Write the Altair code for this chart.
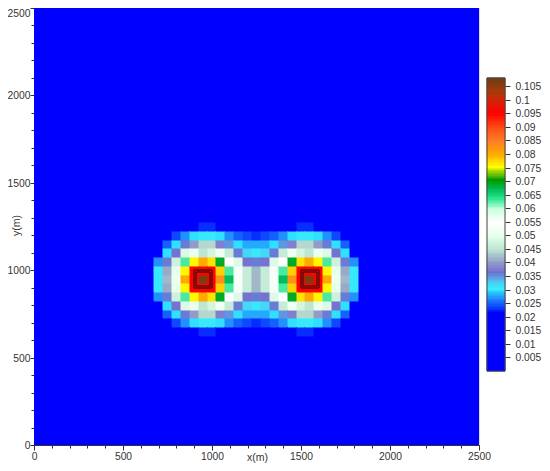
import altair as alt
import pandas as pd

FONT = "Liberation Sans"
TEXT = "#333333"
CELL = 50
BACKGROUND = 0.012
PEAK_A = 950

# Half profile, x = 650 ... 1250 step 50; rows are distance from y = 950
XS = [650, 700, 750, 800, 850, 900, 950, 1000, 1050, 1100, 1150, 1200, 1250]
ROW_0 = [0.015, 0.031, 0.042, 0.052, 0.080, 0.095, 0.1065, 0.095, 0.083, 0.067, 0.053, 0.046, 0.042]
ROW_1 = [0.015, 0.031, 0.041, 0.050, 0.076, 0.095, 0.096, 0.095, 0.078, 0.063, 0.053, 0.046, 0.042]
ROW_2 = [0.015, 0.027, 0.036, 0.047, 0.063, 0.076, 0.080, 0.077, 0.069, 0.055, 0.049, 0.037, 0.036]
ROW_3 = [0.012, 0.020, 0.030, 0.037, 0.049, 0.051, 0.045, 0.048, 0.052, 0.046, 0.036, 0.032, 0.031]
ROW_4 = [0.012, 0.021, 0.025, 0.030, 0.036, 0.040, 0.044, 0.044, 0.038, 0.035, 0.030, 0.028, 0.028]
ROW_5 = [0.012, 0.012, 0.020, 0.024, 0.027, 0.030, 0.031, 0.031, 0.030, 0.027, 0.025, 0.024, 0.023]
ROW_6 = [0.012, 0.012, 0.012, 0.012, 0.012, 0.012, 0.023, 0.023, 0.012, 0.012, 0.012, 0.012, 0.012]
ROWS = [ROW_0, ROW_1, ROW_2, ROW_3, ROW_4, ROW_5, ROW_6]

COLOR_VALUES = [0, 0.0215, 0.0235, 0.026, 0.0285, 0.0305, 0.033, 0.0365, 0.039, 0.042, 0.045,
                0.05, 0.055, 0.06, 0.0635, 0.067, 0.0705, 0.0735, 0.0755, 0.08, 0.085,
                0.09, 0.095, 0.1, 0.1035, 0.108]
COLOR_RANGE = ["#0000ff", "#0000ff", "#0a3cff", "#1e78ff", "#28b4ff", "#32f0ff", "#50c8f0", "#6e6ed2",
               "#8c8cc8", "#a0b9c8", "#bee6d2", "#e6ffeb", "#ffffff", "#c8ffdc", "#32e696",
               "#00be5a", "#009b00", "#96d200", "#ffff00", "#ffaa00", "#ff7d28", "#ff4b14",
               "#ff0000", "#d2230a", "#a03c0a", "#6e3c14"]

MAJOR = [0, 500, 1000, 1500, 2000, 2500]
MINOR = list(range(0, 2501, 100))
BAR_TICKS = [0.005, 0.01, 0.015, 0.02, 0.025, 0.03, 0.035, 0.04, 0.045, 0.05, 0.055, 0.06,
             0.065, 0.07, 0.075, 0.08, 0.085, 0.09, 0.095, 0.1, 0.105]
BAR_BANDS = [i / 1000 for i in range(0, 108)]
BAR_TOP = 0.108
SQUARES_OUTER = [(900, 1000), (1500, 1600)]
SQUARES_INNER = [(910, 990), (1510, 1590)]
SQUARE_Y_OUTER = (900, 1000)
SQUARE_Y_INNER = (910, 990)

PLOT_W, PLOT_H = 445, 437
BAR_X = [453, 471]
BAR_Y = [363, 70]

lookup = {}
for d, row in enumerate(ROWS):
    for x, v in zip(XS, row):
        for yy in {PEAK_A + d * CELL, PEAK_A - d * CELL}:
            lookup[(x, yy)] = v
            lookup[(2500 - x, yy)] = v

cells = []
for i in range(51):
    for j in range(51):
        x, y = i * CELL, j * CELL
        cells.append(dict(x0=x - 25, x1=x + 25, y0=y - 25, y1=y + 25,
                          v=lookup.get((x, y), BACKGROUND)))
cells = pd.DataFrame(cells)

color_scale = alt.Scale(domain=COLOR_VALUES, range=COLOR_RANGE, interpolate="rgb", clamp=True)


def xs():
    return alt.Scale(domain=[0, 2500], nice=False, zero=False, round=True)


common = dict(tickColor=TEXT, domainColor=TEXT, labelColor=TEXT, titleColor=TEXT, labelFont=FONT,
              titleFont=FONT, labelFontSize=10.3, titleFontSize=10.5, titleFontWeight="normal",
              grid=False, labelOverlap=False, labelFlush=False, format="d")

heat = alt.Chart(cells).mark_rect(clip=True, strokeWidth=1).encode(
    x=alt.X("x0:Q", scale=xs(), axis=alt.Axis(orient="bottom", values=MAJOR, title="x(m)", tickSize=5,
                                              labelPadding=1, titleX=223, titleY=7, **common)),
    x2="x1:Q",
    y=alt.Y("y0:Q", scale=xs(), axis=alt.Axis(orient="left", values=MAJOR, title="y(m)", tickSize=4,
                                              labelPadding=0, titleX=-13, titleY=217,
                                              labelBaseline={"condition": {"test": "datum.value == 2500", "value": "top"},
                                                             "value": "middle"},
                                              **common)),
    y2="y1:Q",
    color=alt.Color("v:Q", scale=color_scale, legend=None),
    stroke=alt.Stroke("v:Q", scale=color_scale, legend=None),
)

outer = pd.DataFrame([dict(a=a, b=b, c=SQUARE_Y_OUTER[0], d=SQUARE_Y_OUTER[1]) for a, b in SQUARES_OUTER])
inner = pd.DataFrame([dict(a=a, b=b, c=SQUARE_Y_INNER[0], d=SQUARE_Y_INNER[1]) for a, b in SQUARES_INNER])
squares = pd.concat([outer, inner])
box = alt.Chart(squares).mark_rect(fill=None, stroke="#111111", strokeWidth=1).encode(
    x=alt.X("a:Q", scale=xs(), axis=None), x2="b:Q",
    y=alt.Y("c:Q", scale=xs(), axis=None), y2="d:Q",
)

minor = pd.DataFrame({"m": MINOR})
minor_ticks = alt.Chart(minor).mark_point(opacity=0).encode(
    x=alt.X("m:Q", scale=xs(), axis=alt.Axis(orient="bottom", values=MINOR, labels=False, title=None, grid=False,
                                             tickSize=3, tickColor=TEXT, domain=False)),
    y=alt.Y("m:Q", scale=xs(), axis=alt.Axis(orient="left", values=MINOR, labels=False, title=None, grid=False,
                                             tickSize=3, tickColor=TEXT, domain=False)),
)

bar_x = alt.Scale(domain=[0, 1], range=BAR_X, zero=False, nice=False)
bar_y = alt.Scale(domain=[0, BAR_TOP], range=BAR_Y, nice=False, zero=False, round=True)

bands = pd.DataFrame({"lo": BAR_BANDS, "hi": [b + 0.001 for b in BAR_BANDS], "left": 0, "right": 1,
                      "mid": [b + 0.0005 for b in BAR_BANDS]})
bar = alt.Chart(bands).mark_rect(strokeWidth=1).encode(
    x=alt.X("left:Q", scale=bar_x, axis=None), x2="right:Q",
    y=alt.Y("lo:Q", scale=bar_y,
            axis=alt.Axis(orient="right", values=BAR_TICKS, format=".3~f", title=None, grid=False, domain=False,
                          offset=BAR_X[1] - PLOT_W, tickSize=5, tickColor=TEXT, labelColor=TEXT, labelFont=FONT,
                          labelFontSize=10.3, labelPadding=5, labelOverlap=False, labelFlush=False)),
    y2="hi:Q",
    color=alt.Color("mid:Q", scale=color_scale, legend=None),
    stroke=alt.Stroke("mid:Q", scale=color_scale, legend=None),
)
frame = alt.Chart(pd.DataFrame({"lo": [0], "hi": [BAR_TOP], "left": [0], "right": [1]})).mark_rect(
    fill=None, stroke="#444444", strokeWidth=1).encode(
    x=alt.X("left:Q", scale=bar_x, axis=None), x2="right:Q",
    y=alt.Y("lo:Q", scale=bar_y, axis=None), y2="hi:Q",
)

chart = alt.layer(heat, box, minor_ticks, bar, frame).resolve_scale(
    x="independent", y="independent"
).properties(
    width=PLOT_W, height=PLOT_H,
    padding={"left": 26, "top": 0, "right": 63, "bottom": 18},
    autosize=alt.AutoSizeParams(type="none"),
).configure_view(stroke=TEXT, strokeWidth=1).configure(background="white")

chart.save("out.html", embed_options={"renderer": "svg", "actions": False})
